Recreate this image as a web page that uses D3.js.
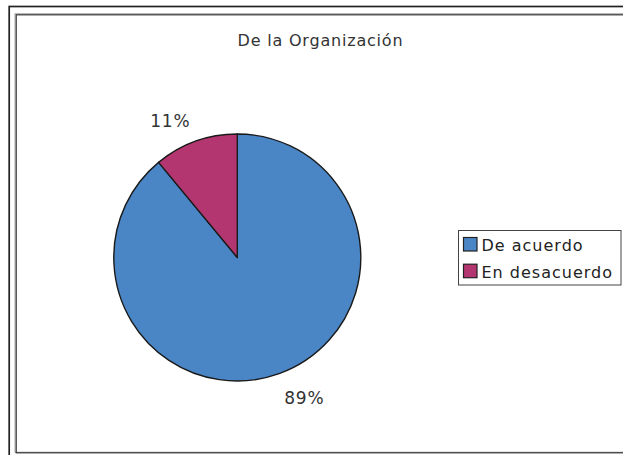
<!DOCTYPE html>
<html>
<head>
<meta charset="utf-8">
<script src="https://cdn.jsdelivr.net/npm/d3@7"></script>
<style>
  body { margin: 0; background: #fff; }
  svg { display: block; font-family: "DejaVu Sans", Verdana, sans-serif; }
</style>
</head>
<body>
<div id="chart"></div>
<script>
const chart_title = "De la Organización";
const categories = ["De acuerdo", "En desacuerdo"];
const values = [89, 11];
const colors = ["#4a86c6", "#b43670"];

const width = 623;
const height = 455;
const cx = 237.3, cy = 257.5, radius = 123.5;
const percent_format = d3.format(".0%");

const svg = d3.create("svg")
    .attr("width", width)
    .attr("height", height)
    .attr("viewBox", [0, 0, width, height]);

// Frames (outer dark line, inner shaded line)
svg.append("rect")
    .attr("x", 9.2).attr("y", 6.5)
    .attr("width", 700).attr("height", 600)
    .attr("fill", "none").attr("stroke", "#222").attr("stroke-width", 1.7);
svg.append("rect")
    .attr("x", 15).attr("y", 13.7)
    .attr("width", 700).attr("height", 438.5)
    .attr("fill", "none").attr("stroke", "#a8a8a8").attr("stroke-width", 1);
svg.append("rect")
    .attr("x", 16.2).attr("y", 14.8)
    .attr("width", 700).attr("height", 438)
    .attr("fill", "none").attr("stroke", "#333").attr("stroke-width", 1.2);

svg.append("text")
    .attr("x", 320.5).attr("y", 46)
    .attr("text-anchor", "middle")
    .attr("font-size", 16)
    .attr("letter-spacing", 0.8)
    .attr("fill", "#333")
    .text(chart_title);

const total = d3.sum(values);
const pie = d3.pie().sort(null).value(d => d);
const arcs = pie(values);
const arc = d3.arc().innerRadius(0).outerRadius(radius);

const g = svg.append("g").attr("transform", `translate(${cx},${cy})`);

g.selectAll("path")
    .data(arcs)
    .join("path")
    .attr("d", arc)
    .attr("fill", (d, i) => colors[i])
    .attr("stroke", "#1a1a1a")
    .attr("stroke-width", 1.4)
    .attr("stroke-linejoin", "round");

// Labels outside the slices
const label_r = radius + 15;
g.selectAll("text")
    .data(arcs)
    .join("text")
    .attr("x", d => Math.sin((d.startAngle + d.endAngle) / 2) * label_r)
    .attr("y", d => -Math.cos((d.startAngle + d.endAngle) / 2) * label_r)
    .attr("text-anchor", d => Math.sin((d.startAngle + d.endAngle) / 2) < 0 ? "end" : "start")
    .attr("dy", d => -Math.cos((d.startAngle + d.endAngle) / 2) < 0 ? "0" : "0.95em")
    .attr("font-size", 17)
    .attr("letter-spacing", 0.8)
    .attr("fill", "#333")
    .text(d => percent_format(d.value / total));

// Legend
const legend = svg.append("g").attr("transform", "translate(458.5,230.5)");
legend.append("rect")
    .attr("width", 162.5).attr("height", 54.5)
    .attr("fill", "#fff").attr("stroke", "#444").attr("stroke-width", 1);

const item = legend.selectAll("g")
    .data(categories)
    .join("g")
    .attr("transform", (d, i) => `translate(5,${7 + i * 26.7})`);

item.append("rect")
    .attr("width", 13.5).attr("height", 13.5)
    .attr("fill", (d, i) => colors[i])
    .attr("stroke", "#222").attr("stroke-width", 1.2);

item.append("text")
    .attr("x", 18).attr("y", 13.3)
    .attr("font-size", 16)
    .attr("letter-spacing", 1)
    .attr("fill", "#222")
    .text(d => d);

document.getElementById("chart").append(svg.node());
</script>
</body>
</html>
